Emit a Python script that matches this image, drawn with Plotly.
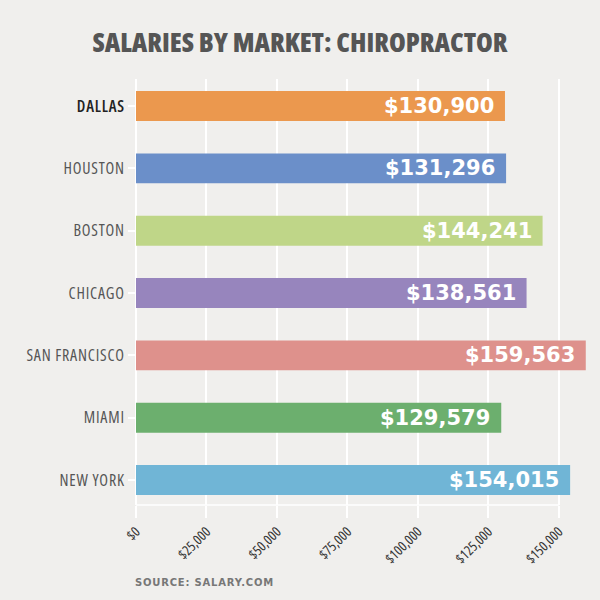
import plotly.graph_objects as go

cities = ["DALLAS", "HOUSTON", "BOSTON", "CHICAGO", "SAN FRANCISCO", "MIAMI", "NEW YORK"]
salaries = [130900, 131296, 144241, 138561, 159563, 129579, 154015]
colors = ["#eb984e", "#6b8fc9", "#bfd688", "#9785bd", "#de918c", "#6caf6e", "#70b5d6"]
tick_vals = [0, 25000, 50000, 75000, 100000, 125000, 150000]
tick_text = ["$0", "$25,000", "$50,000", "$75,000", "$100,000", "$125,000", "$150,000"]
highlight = "DALLAS"

BG = "#f0efed"
COND = "Open Sans"
STRETCH = "font-stretch:75%"


def cond(t, extra=""):
    return "<span style='%s;%s'>%s</span>" % (STRETCH, extra, t)


fig = go.Figure()
fig.add_trace(go.Bar(
    x=salaries, y=cities, orientation="h",
    marker=dict(color=colors, line=dict(width=0)),
    width=0.48, hoverinfo="skip",
))

for c, v in zip(cities, salaries):
    fig.add_annotation(
        x=v, y=c, xref="x", yref="y", text="${:,}".format(v),
        xanchor="right", yanchor="middle", xshift=-9, showarrow=False,
        font=dict(family="DejaVu Sans", size=21, color="white", weight="bold"),
    )

ticktext_y = [
    cond(c, "color:#222222;font-weight:600;letter-spacing:0.8px") if c == highlight
    else cond(c, "letter-spacing:0.8px")
    for c in cities
]

fig.update_layout(
    width=600, height=600,
    paper_bgcolor=BG, plot_bgcolor=BG,
    margin=dict(l=136, r=13, t=79, b=95, autoexpand=False),
    showlegend=False,
    title=dict(
        text=cond("SALARIES BY MARKET: CHIROPRACTOR", "font-weight:800"),
        x=0.5, xref="container", xanchor="center",
        y=1 - 43 / 600, yref="container", yanchor="middle",
        font=dict(family=COND, size=27, color="#555555"),
    ),
    xaxis=dict(
        range=[0, 160000], tickvals=tick_vals, ticktext=[cond(t) for t in tick_text],
        tickangle=-45, showgrid=True, gridcolor="white", gridwidth=1.5,
        zeroline=True, zerolinecolor="white", zerolinewidth=1.5,
        ticks="outside", ticklen=12, tickcolor="white", tickwidth=1.5,
        showline=False, automargin=False,
        tickfont=dict(family=COND, size=14, color="#333333"),
    ),
    yaxis=dict(
        categoryorder="array", categoryarray=cities,
        tickvals=cities, ticktext=ticktext_y,
        range=[6.4, -0.433], automargin=False,
        showgrid=False, zeroline=False, showline=False,
        ticks="outside", ticklen=7, tickcolor="white", tickwidth=1.5,
        tickfont=dict(family=COND, size=16, color="#555555"),
    ),
    shapes=[dict(
        type="line", xref="x", yref="paper", x0=0, x1=tick_vals[-1], y0=0, y1=0,
        line=dict(color="white", width=1.5), layer="above",
    )],
)

fig.add_annotation(
    xref="paper", yref="paper", showarrow=False,
    x=(133 - 136) / (600 - 136 - 13), xanchor="left",
    y=-(582 - 505) / (505 - 79), yanchor="middle",
    text="<span style='letter-spacing:0.8px'><b>SOURCE: SALARY.COM</b></span>",
    font=dict(family="DejaVu Sans", size=10, color="#777777"),
)

fig.write_html("out.html")
